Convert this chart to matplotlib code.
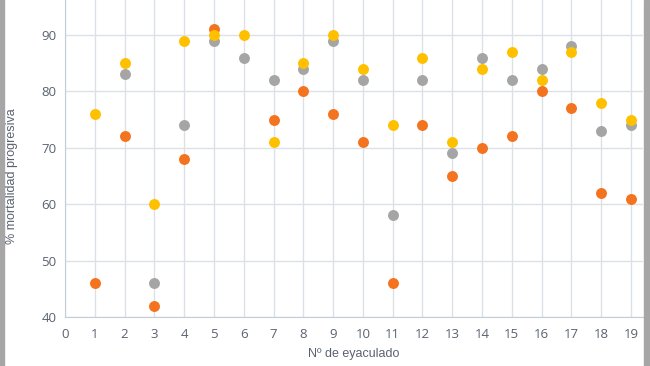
import matplotlib.pyplot as plt
import numpy as np

# Nº de eyaculado
x = np.arange(1, 20)

# % mortalidad progresiva, three series (None = no point)
gris = [None, 83, 46, 74, 89, 86, 82, 84, 89, 82, 58, 82, 69, 86, 82, 84, 88, 73, 74]
naranja = [46, 72, 42, 68, 91, None, 75, 80, 76, 71, 46, 74, 65, 70, 72, 80, 77, 62, 61]
amarillo = [76, 85, 60, 89, 90, 90, 71, 85, 90, 84, 74, 86, 71, 84, 87, 82, 87, 78, 75]

plt.rcParams['font.family'] = ['Open Sans', 'DejaVu Sans']

fig = plt.figure(figsize=(6.5, 3.66), dpi=100)
ax = fig.add_axes([0.1, 0.134, 0.889, 0.866])


def clean(vals):
    return np.array([np.nan if v is None else v for v in vals], dtype=float)


ax.scatter(x, clean(naranja), s=62, color='#F4731F', zorder=3, linewidths=0)
ax.scatter(x, clean(gris), s=62, color='#A5A5A5', zorder=3, linewidths=0)
ax.scatter(x, clean(amarillo), s=62, color='#FFC000', zorder=3, linewidths=0)

ax.set_xlim(0, 19.4)
ax.set_ylim(40, 96.2)
ax.set_xticks(range(0, 20))
ax.set_yticks(range(40, 100, 10))
ax.grid(True, color='#DCE1E8', linewidth=1)
ax.set_axisbelow(True)

for s in ['top', 'right']:
    ax.spines[s].set_visible(False)
for s in ['left', 'bottom']:
    ax.spines[s].set_color('#C5CCD6')
ax.tick_params(length=0, labelsize=9.5, labelcolor='#5A6270')
ax.tick_params(axis='x', pad=8)
ax.tick_params(axis='y', pad=6)

ax.set_xlabel('Nº de eyaculado', fontsize=9, color='#5A6270', labelpad=5,
              family=['Liberation Sans', 'DejaVu Sans'])
fig.text(0.018, 0.52, '% mortalidad progresiva', rotation=90, fontsize=9,
         color='#5A6270', ha='center', va='center',
         family=['Liberation Sans', 'DejaVu Sans'])

# gray frame strips at left and right edges
fig.patches.append(plt.Rectangle((0, 0), 4 / 650, 1, transform=fig.transFigure,
                                 color='#A6A6A6', zorder=0))
fig.patches.append(plt.Rectangle((644 / 650, 0), 6 / 650, 1, transform=fig.transFigure,
                                 color='#A6A6A6', zorder=0))

fig.savefig('out.png', dpi=100)
